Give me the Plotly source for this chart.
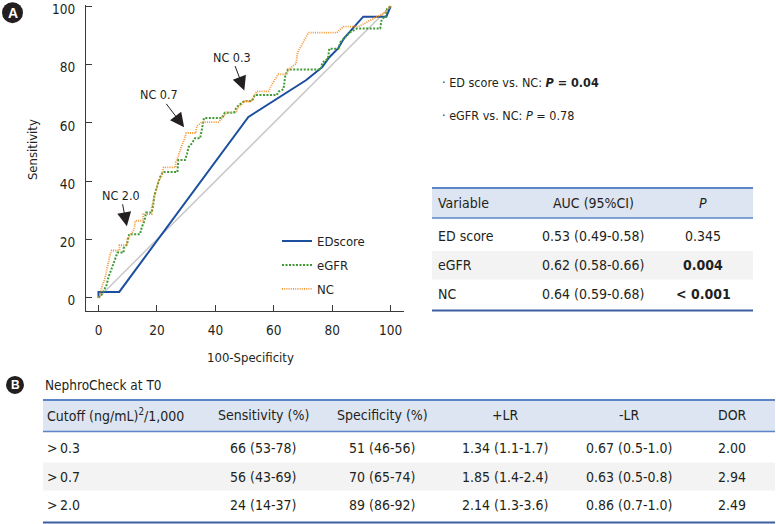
import plotly.graph_objects as go

# ---------------- data ----------------
ed_x = [0, 0, 7.1, 51.3, 71, 76.5, 79, 82, 84, 90.6, 98.5, 100]
ed_y = [0, 2, 2, 62, 74.6, 79, 82.5, 85.5, 89, 96.4, 96.4, 100]

egfr_x = [0, 1, 1.6, 2.3, 2.8, 3.4, 4.3, 5.1, 6, 6.5, 8.6, 8.6, 9.7, 10.2, 10.5, 14.2, 14.8, 15.7,
          16.3, 18.2, 18.7, 19.1, 19.8, 20.4, 21, 22, 27, 27.3, 29.6, 30.3, 30.8, 32, 33, 34.8, 35.3,
          35.8, 36.1, 42.2, 43.2, 46.3, 47.3, 49, 50, 52.5, 53.5, 61, 61.6, 63.3, 63.9, 64.8, 76, 76.6,
          78.5, 79, 82.1, 82.7, 84, 86, 88.4, 96.4, 96.8, 97.5, 98.2, 98.7, 100]
egfr_y = [0, 1, 2, 3.5, 4.5, 7, 9.3, 12, 13.8, 15.5, 15.5, 17, 18.2, 21.3, 21.8, 21.8, 24.1, 26.4,
          29.2, 29.2, 31.6, 35, 37.5, 39, 41.2, 43.1, 43.1, 47.2, 47.2, 49.4, 51.6, 53, 54.7, 54.7, 57.4,
          59.5, 61.6, 61.6, 63.4, 63.4, 65.4, 66.8, 67.5, 67.5, 69.5, 69.5, 70.7, 71.5, 76, 78.3, 78.3, 80.6,
          82, 85.4, 85.4, 87.5, 89, 91, 92.3, 92.3, 94.9, 96, 96, 99, 100]

nc_x = [0, 0.5, 1.2, 2, 2.5, 3, 3.6, 3.9, 4.5, 7.2, 7.2, 9.7, 9.9, 11.2, 12.2, 12.6, 15.3, 15.3,
        18.2, 18.2, 18.8, 19.5, 20, 20.5, 21.6, 22.3, 26.4, 26.4, 27.3, 27.8, 28.5, 29.3, 30, 33.3,
        33.6, 35.3, 41, 42.5, 43.9, 47.3, 47.5, 49, 49.5, 52.5, 53, 54.2, 58.2, 59.3, 61.5, 64.4, 65,
        67.6, 68.1, 70, 71.8, 81.6, 83.8, 89, 92, 95, 97.5, 100]
nc_y = [0, 1, 4, 6, 8, 10.5, 13, 14.5, 16.2, 16.2, 18, 18, 20, 21.8, 23.5, 26.4, 26.4, 28.7,
        28.7, 31, 33.3, 36, 38, 40.1, 41.8, 44.7, 44.7, 46.4, 48.7, 50.5, 52.1, 54, 56.5, 56.5,
        58.7, 60.2, 60.2, 61.8, 63.6, 63.6, 65.1, 66.3, 67.3, 67.3, 69, 70.8, 70.8, 73.1, 76.6, 76.6, 78.3,
        80.3, 84, 87.5, 90.9, 90.9, 93, 93, 94.5, 96, 97.5, 100]

ref_x = [0, 100]
ref_y = [0, 100]

cut_labels = ["NC 2.0", "NC 0.7", "NC 0.3"]
cut_x = [9.7, 29.3, 49.9]
cut_y = [24.5, 58.5, 71.1]

comparisons = ["\u00b7 ED score vs. NC: <b><i>P</i> = 0.04</b>",
               "\u00b7 eGFR vs. NC: <i>P</i> = 0.78"]

auc_header = ["Variable", "AUC (95%CI)", "<i>P</i>"]
auc_variable = ["ED score", "eGFR", "NC"]
auc_value = ["0.53 (0.49-0.58)", "0.62 (0.58-0.66)", "0.64 (0.59-0.68)"]
auc_p = ["0.345", "<b>0.004</b>", "<b>< 0.001</b>"]

nc_title = "NephroCheck at T0"
cut_header = ["Cutoff (ng/mL)<sup>2</sup>/1,000", "Sensitivity (%)", "Specificity (%)", "+LR", "-LR", "DOR"]
cut_rows = [
    [">\u20090.3", "66 (53-78)", "51 (46-56)", "1.34 (1.1-1.7)", "0.67 (0.5-1.0)", "2.00"],
    [">\u20090.7", "56 (43-69)", "70 (65-74)", "1.85 (1.4-2.4)", "0.63 (0.5-0.8)", "2.94"],
    [">\u20092.0", "24 (14-37)", "89 (86-92)", "2.14 (1.3-3.6)", "0.86 (0.7-1.0)", "2.49"],
]

# ---------------- layout geometry (pixels) ----------------
W, H = 776, 524
L, R, T, B = 86, 404, 4.83, 311
FONT = "DejaVu Sans Condensed, DejaVu Sans, sans-serif"
TXT = "#231f20"
TS = 14  # table font size


def px(x):
    return (x - L) / (R - L)


def py(y):
    return (B - y) / (B - T)


fig = go.Figure()
fig.add_trace(go.Scatter(x=ref_x, y=ref_y, mode="lines", line=dict(color="#c8c8c8", width=1.5),
                         showlegend=False, hoverinfo="skip"))
fig.add_trace(go.Scatter(x=ed_x, y=ed_y, mode="lines", name="EDscore", legendgroup="a",
                         line=dict(color="#1c4f9e", width=2)))
fig.add_trace(go.Scatter(x=egfr_x, y=egfr_y, mode="lines", name="eGFR", legendgroup="b",
                         line=dict(color="#3f9a35", width=2, dash="2px,1.5px")))
fig.add_trace(go.Scatter(x=nc_x, y=nc_y, mode="lines", name="NC", legendgroup="c",
                         line=dict(color="#f39433", width=1.8, dash="1px,1.2px")))

shapes = []
ann = []


def text(x, y, s, size=TS, anchor="left", color=TXT, **kw):
    ann.append(dict(x=px(x), y=py(y), xref="paper", yref="paper", text=s, showarrow=False,
                    xanchor=anchor, yanchor="middle", font=dict(family=FONT, size=size, color=color), **kw))


def hline(x0, x1, y, color, width):
    shapes.append(dict(type="line", xref="paper", yref="paper", x0=px(x0), x1=px(x1), y0=py(y), y1=py(y),
                       line=dict(color=color, width=width)))


def rect(x0, x1, y0, y1, color):
    shapes.append(dict(type="rect", xref="paper", yref="paper", x0=px(x0), x1=px(x1), y0=py(y0), y1=py(y1),
                       fillcolor=color, line=dict(width=0), layer="below"))


def badge(cx, cy, r, letter, size):
    shapes.append(dict(type="circle", xref="paper", yref="paper", x0=px(cx - r), x1=px(cx + r),
                       y0=py(cy + r), y1=py(cy - r), fillcolor="#231f20", line=dict(width=0)))
    ann.append(dict(x=px(cx), y=py(cy), xref="paper", yref="paper", text="<b>%s</b>" % letter,
                    showarrow=False, xanchor="center", yanchor="middle",
                    font=dict(family="Liberation Sans, Arial, sans-serif", size=size, color="white")))


badge(12.5, 12.5, 10.5, "A", 14)
badge(15, 385, 9, "B", 12)

# axis titles
ann.append(dict(x=px(32), y=py(150), xref="paper", yref="paper", text="Sensitivity", showarrow=False,
                textangle=-90, xanchor="center", yanchor="middle", font=dict(family=FONT, size=13, color=TXT)))
text(250.7, 358, "100-Specificity", size=13, anchor="center")

# cutoff arrows
offs = [(-6, -31), (-24.7, -32.3), (-12.6, -33.4)]
for lab, cx, cy, (ax, ay) in zip(cut_labels, cut_x, cut_y, offs):
    ann.append(dict(x=cx, y=cy, xref="x", yref="y", text=lab, showarrow=True, ax=ax, ay=ay,
                    arrowhead=2, arrowsize=2.8, arrowwidth=1, arrowcolor="#231f20",
                    font=dict(family=FONT, size=12.5, color=TXT)))

# comparison texts
text(440, 82, comparisons[0], size=12.5)
text(440, 115, comparisons[1], size=12.5)

# AUC table
rect(432, 753, 188, 218, "#dde5f2")
rect(432, 753, 251, 279.5, "#f3f3f3")
hline(432, 753, 188, "#5b85c7", 2)
hline(432, 753, 218, "#5b85c7", 1.5)
hline(432, 753, 310.5, "#3c5f9f", 2)
text(436, 203, auc_header[0])
text(593, 203, auc_header[1], anchor="center")
text(703, 203, auc_header[2], anchor="center")
for i, yy in enumerate([236, 265, 293.5]):
    text(436, yy, auc_variable[i])
    text(593, yy, auc_value[i], anchor="center")
    text(703, yy, auc_p[i], anchor="center")

# NephroCheck table
text(43, 385, nc_title, size=13.5)
rect(43, 775, 400, 431.5, "#dde5f2")
rect(43, 775, 462.5, 490.7, "#f3f3f3")
hline(43, 775, 400, "#5b85c7", 2)
hline(43, 775, 431.5, "#5b85c7", 1.5)
hline(43, 775, 522.5, "#3c5f9f", 2)
col_x = [45, 263, 382, 505, 629, 732]
text(col_x[0], 415.5, cut_header[0])
for j in range(1, 6):
    text(col_x[j], 415.5, cut_header[j], anchor="center")
for i, yy in enumerate([448, 477, 505]):
    text(col_x[0], yy, cut_rows[i][0])
    for j in range(1, 6):
        text(col_x[j], yy, cut_rows[i][j], anchor="center")

axis_common = dict(showgrid=False, zeroline=False, showline=True, linecolor="#3a3a3a", linewidth=1.3,
                   ticks="inside", ticklen=6, tickwidth=1.3, tickcolor="#3a3a3a",
                   tickfont=dict(family=FONT, size=13.5, color=TXT), ticklabelstandoff=7,
                   ticklabeloverflow="allow",
                   tickmode="array", tickvals=[0, 20, 40, 60, 80, 100])

fig.update_layout(
    width=W, height=H,
    margin=dict(l=L, r=W - R, t=T, b=H - B, autoexpand=False),
    paper_bgcolor="white", plot_bgcolor="white",
    xaxis=dict(range=[-4.28, 104.55], **axis_common),
    yaxis=dict(range=[-4.56, 100.4], ticklabelshift=3, **axis_common),
    legend=dict(x=px(277), y=py(226), xanchor="left", yanchor="top", bgcolor="rgba(0,0,0,0)",
                font=dict(family=FONT, size=13, color=TXT), itemwidth=30, tracegroupgap=4),
    shapes=shapes, annotations=ann,
)

fig.write_html("out.html", config={"displayModeBar": False},
               post_script="document.body.style.margin='0px';")
